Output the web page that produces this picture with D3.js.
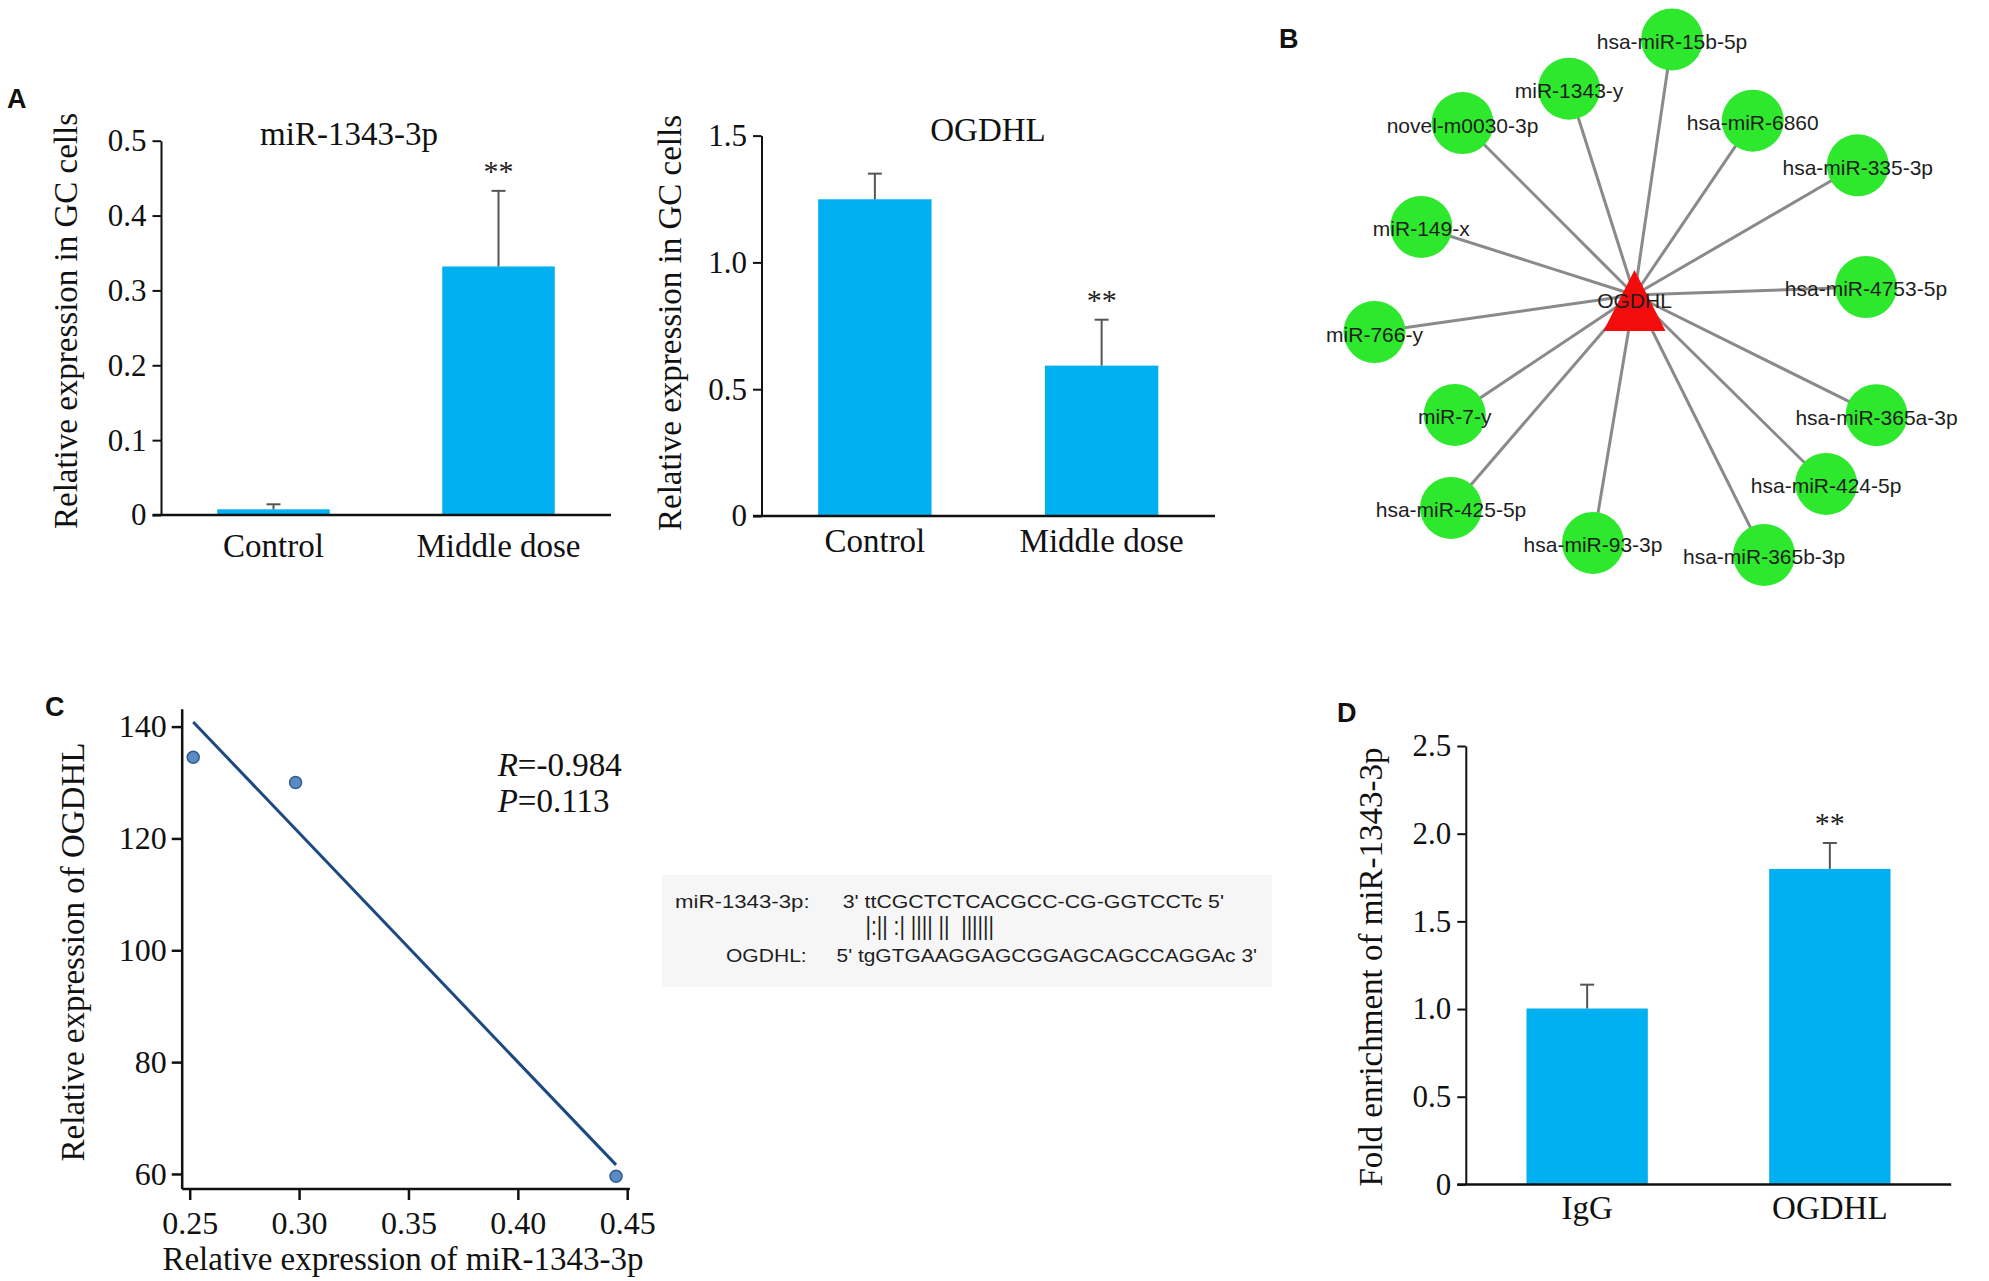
<!DOCTYPE html>
<html><head><meta charset="utf-8">
<script src="https://cdn.jsdelivr.net/npm/d3@7"></script>
<style>body{margin:0;background:#fff} svg{display:block}</style>
</head><body><svg id="c" width="1989" height="1281"></svg>
<script>
// ---------- data ----------
const barCategories = ["Control", "Middle dose"];
const mirValues = [0.0076, 0.332];
const mirErrors = [0.0067, 0.101];
const mirTicks = [0, 0.1, 0.2, 0.3, 0.4, 0.5];
const mirStars = ["", "**"];

const ogdhlValues = [1.249, 0.593];
const ogdhlErrors = [0.101, 0.181];
const ogdhlTicks = [0, 0.5, 1.0, 1.5];
const ogdhlStars = ["", "**"];

const ripCategories = ["IgG", "OGDHL"];
const ripValues = [1.003, 1.799];
const ripErrors = [0.136, 0.148];
const ripTicks = [0, 0.5, 1.0, 1.5, 2.0, 2.5];
const ripStars = ["", "**"];

const scatterX = [0.2516, 0.2984, 0.4449];
const scatterY = [134.5, 130.0, 59.6];
const scatterXTicks = [0.25, 0.30, 0.35, 0.40, 0.45];
const scatterYTicks = [60, 80, 100, 120, 140];
const statR = "-0.984";
const statP = "0.113";

const netHub = "OGDHL";
const netNodes = ["hsa-miR-15b-5p","miR-1343-y","novel-m0030-3p","hsa-miR-6860","hsa-miR-335-3p","miR-149-x",
  "hsa-miR-4753-5p","miR-766-y","miR-7-y","hsa-miR-365a-3p","hsa-miR-424-5p","hsa-miR-425-5p","hsa-miR-93-3p","hsa-miR-365b-3p"];
const netAngles = [-81.65, -107.6, -135.0, -55.85, -30.15, -162.3, -1.98, 171.9, 146.3, 26.4, 44.6, 130.75, 99.5, 63.5];
const netDistances = [258.3, 216.4, 243.2, 210.7, 258.2, 223.8, 231.6, 262.6, 216.1, 270.2, 269.1, 281.1, 251.4, 290.5];

const alignMirName = "miR-1343-3p:";
const alignMirSeq = "3' ttCGCTCTCACGCC-CG-GGTCCTc 5'";
const alignBars = "|:|| :| |||| ||  ||||||";
const alignGeneName = "OGDHL:";
const alignGeneSeq = "5' tgGTGAAGGAGCGGAGCAGCCAGGAc 3'";

// ---------- drawing ----------
const svg = d3.select("#c");
const SERIF = "'Liberation Serif','Times New Roman',serif";
const SANS = "'Liberation Sans',Arial,sans-serif";
const BAR = "#00b0f0";
const fmtTick = d => d === 0 ? "0" : d3.format(".1f")(d);

function panelLetter(t, x, y) {
  svg.append("text").attr("x", x).attr("y", y).text(t)
    .attr("font-family", SANS).attr("font-weight", "bold").attr("font-size", 27).attr("fill", "#111");
}

function barChart(o) {
  const g = svg.append("g");
  const x = d3.scaleBand().domain(o.cats).range([o.x0, o.x1]).paddingInner(0.5).paddingOuter(0.25);
  const y = d3.scaleLinear().domain([0, o.vmax]).range([o.yBottom, o.yTop]);
  g.selectAll("rect.bar").data(o.values).join("rect").attr("class", "bar")
    .attr("x", (d, i) => x(o.cats[i])).attr("width", x.bandwidth())
    .attr("y", d => y(d)).attr("height", d => y(0) - y(d)).attr("fill", BAR);
  const eb = g.selectAll("g.err").data(o.values).join("g").attr("class", "err");
  eb.append("line").attr("x1", (d, i) => x(o.cats[i]) + x.bandwidth() / 2).attr("x2", (d, i) => x(o.cats[i]) + x.bandwidth() / 2)
    .attr("y1", d => y(d)).attr("y2", (d, i) => y(d + o.errors[i])).attr("stroke", "#555").attr("stroke-width", 2);
  eb.append("line").attr("x1", (d, i) => x(o.cats[i]) + x.bandwidth() / 2 - 7).attr("x2", (d, i) => x(o.cats[i]) + x.bandwidth() / 2 + 7)
    .attr("y1", (d, i) => y(d + o.errors[i])).attr("y2", (d, i) => y(d + o.errors[i])).attr("stroke", "#555").attr("stroke-width", 2);
  g.selectAll("text.star").data(o.values).join("text").attr("class", "star")
    .attr("x", (d, i) => x(o.cats[i]) + x.bandwidth() / 2).attr("y", (d, i) => y(d + o.errors[i]) - 10)
    .attr("text-anchor", "middle").attr("font-family", SERIF).attr("font-size", 30).attr("fill", "#222")
    .text((d, i) => o.stars[i]);
  const ax = g.append("g").attr("transform", `translate(${o.x0},0)`)
    .call(d3.axisLeft(y).tickValues(o.ticks).tickFormat(fmtTick).tickSize(8.5).tickSizeOuter(0).tickPadding(6));
  ax.selectAll("path,line").attr("stroke", "#111").attr("stroke-width", 2);
  ax.selectAll("text").attr("font-family", SERIF).attr("font-size", 31).attr("fill", "#111");
  g.append("line").attr("x1", o.x0 - 8.5).attr("x2", o.x1).attr("y1", y(0)).attr("y2", y(0))
    .attr("stroke", "#111").attr("stroke-width", 2.5);
  g.selectAll("text.cat").data(o.cats).join("text").attr("class", "cat")
    .attr("x", d => x(d) + x.bandwidth() / 2).attr("y", o.xlabelY).attr("text-anchor", "middle")
    .attr("font-family", SERIF).attr("font-size", 33).attr("fill", "#111").text(d => d);
  if (o.title) g.append("text").attr("x", o.titleX).attr("y", o.titleY).attr("text-anchor", "middle")
    .attr("font-family", SERIF).attr("font-size", 33).attr("fill", "#111").text(o.title);
  g.append("text").attr("transform", `translate(${o.ylabelX},${o.ylabelY}) rotate(-90)`).attr("text-anchor", "middle")
    .attr("font-family", SERIF).attr("font-size", 33).attr("fill", "#111").text(o.ylabel);
}

// Panel A
panelLetter("A", 7, 108);
barChart({cats: barCategories, values: mirValues, errors: mirErrors, stars: mirStars, ticks: mirTicks, vmax: 0.5,
  x0: 161, x1: 611, yTop: 140.7, yBottom: 515, xlabelY: 556.5, title: "miR-1343-3p", titleX: 349, titleY: 145,
  ylabel: "Relative expression in GC cells", ylabelX: 77, ylabelY: 321});
barChart({cats: barCategories, values: ogdhlValues, errors: ogdhlErrors, stars: ogdhlStars, ticks: ogdhlTicks, vmax: 1.5,
  x0: 761.5, x1: 1215, yTop: 135.6, yBottom: 516, xlabelY: 552, title: "OGDHL", titleX: 988, titleY: 141,
  ylabel: "Relative expression in GC cells", ylabelX: 681, ylabelY: 323});

// Panel D
panelLetter("D", 1337, 722);
barChart({cats: ripCategories, values: ripValues, errors: ripErrors, stars: ripStars, ticks: ripTicks, vmax: 2.5,
  x0: 1465.8, x1: 1951.2, yTop: 746, yBottom: 1184.4, xlabelY: 1218.5, title: null,
  ylabel: "Fold enrichment of miR-1343-3p", ylabelX: 1382, ylabelY: 967});

// Panel B network
panelLetter("B", 1279, 48);
(function () {
  svg.append("clipPath").attr("id", "netclip").append("rect").attr("x", 1270).attr("y", 0).attr("width", 719).attr("height", 586);
  const g = svg.append("g").attr("clip-path", "url(#netclip)");
  const cx = 1634.5, cy = 295;
  const r = d3.scaleLinear().domain([0, 300]).range([0, 300]);
  const nodes = netNodes.map((n, i) => ({
    name: n,
    x: cx + r(netDistances[i]) * Math.cos(netAngles[i] * Math.PI / 180),
    y: cy + r(netDistances[i]) * Math.sin(netAngles[i] * Math.PI / 180)
  }));
  g.selectAll("line.edge").data(nodes).join("line").attr("class", "edge")
    .attr("x1", d => d.x).attr("y1", d => d.y).attr("x2", cx).attr("y2", cy)
    .attr("stroke", "#8a8a8a").attr("stroke-width", 3);
  g.selectAll("circle.node").data(nodes).join("circle").attr("class", "node")
    .attr("cx", d => d.x).attr("cy", d => d.y).attr("r", 31).attr("fill", "#2ee82e");
  g.append("path").attr("d", `M${cx},${cy - 25}L${cx + 31},${cy + 36}L${cx - 31},${cy + 36}Z`).attr("fill", "#f20c0c");
  g.selectAll("text.nl").data(nodes).join("text").attr("class", "nl")
    .attr("x", d => d.x).attr("y", d => d.y + 2).attr("text-anchor", "middle").attr("dominant-baseline", "central")
    .attr("font-family", SANS).attr("font-size", 21).attr("fill", "#1e1e1e").text(d => d.name);
  g.append("text").attr("x", cx).attr("y", cy + 5).attr("text-anchor", "middle").attr("dominant-baseline", "central")
    .attr("font-family", SANS).attr("font-size", 21).attr("fill", "#1e1e1e").text(netHub);
})();

// Panel C scatter
panelLetter("C", 45, 716);
(function () {
  const g = svg.append("g");
  const x = d3.scaleLinear().domain([0.24634, 0.451]).range([181.7, 629.4]);
  const y = d3.scaleLinear().domain([57.4, 143.2]).range([1188.5, 708.7]);
  const ax = g.append("g").attr("transform", "translate(181.7,0)")
    .call(d3.axisLeft(y).tickValues(scatterYTicks).tickFormat(d3.format("d")).tickSize(10).tickSizeOuter(0).tickPadding(5));
  const bx = g.append("g").attr("transform", "translate(0,1188.5)")
    .call(d3.axisBottom(x).tickValues(scatterXTicks).tickFormat(d3.format(".2f")).tickSize(11.5).tickSizeOuter(0).tickPadding(11));
  [ax, bx].forEach(a => {
    a.selectAll("path,line").attr("stroke", "#111").attr("stroke-width", 2.5);
    a.selectAll("text").attr("font-family", SERIF).attr("font-size", 32).attr("fill", "#111");
  });
  const mx = d3.mean(scatterX), my = d3.mean(scatterY);
  const sxy = d3.sum(scatterX.map((v, i) => (v - mx) * (scatterY[i] - my)));
  const sxx = d3.sum(scatterX.map(v => (v - mx) * (v - mx)));
  const slope = sxy / sxx, icpt = my - slope * mx;
  const [xa, xb] = d3.extent(scatterX);
  g.append("line").attr("x1", x(xa)).attr("y1", y(icpt + slope * xa)).attr("x2", x(xb)).attr("y2", y(icpt + slope * xb))
    .attr("stroke", "#1c4a80").attr("stroke-width", 3);
  g.selectAll("circle.pt").data(scatterX).join("circle").attr("class", "pt")
    .attr("cx", d => x(d)).attr("cy", (d, i) => y(scatterY[i])).attr("r", 6)
    .attr("fill", "#5b8ac4").attr("stroke", "#2f5d94").attr("stroke-width", 1.5);
  const t1 = g.append("text").attr("x", 497.7).attr("y", 775.7).attr("font-family", SERIF).attr("font-size", 33).attr("fill", "#111");
  t1.append("tspan").attr("font-style", "italic").text("R");
  t1.append("tspan").text("=" + statR);
  const t2 = g.append("text").attr("x", 497.7).attr("y", 812).attr("font-family", SERIF).attr("font-size", 33).attr("fill", "#111");
  t2.append("tspan").attr("font-style", "italic").text("P");
  t2.append("tspan").text("=" + statP);
  g.append("text").attr("transform", "translate(84,952) rotate(-90)").attr("text-anchor", "middle")
    .attr("font-family", SERIF).attr("font-size", 33).attr("fill", "#111").text("Relative expression of OGDHL");
  g.append("text").attr("x", 403).attr("y", 1270).attr("text-anchor", "middle")
    .attr("font-family", SERIF).attr("font-size", 33).attr("fill", "#111").text("Relative expression of miR-1343-3p");
})();

// Alignment box
(function () {
  const g = svg.append("g");
  g.append("rect").attr("x", 662).attr("y", 875).attr("width", 610).attr("height", 112).attr("fill", "#f6f6f6");
  const txt = (s, x, y, len, fs) => g.append("text").attr("x", x).attr("y", y).attr("font-family", SANS)
    .attr("font-size", fs).attr("fill", "#1e1e1e").attr("textLength", len).attr("lengthAdjust", "spacingAndGlyphs")
    .style("white-space", "pre").text(s);
  txt(alignMirName, 675, 907.6, 134.6, 18);
  txt(alignMirSeq, 842.7, 907.6, 381.3, 18);
  txt(alignBars, 865.5, 935, 128.5, 26);
  txt(alignGeneName, 726, 962, 80.7, 18);
  txt(alignGeneSeq, 836.5, 962, 420.5, 18);
})();
</script></body></html>
